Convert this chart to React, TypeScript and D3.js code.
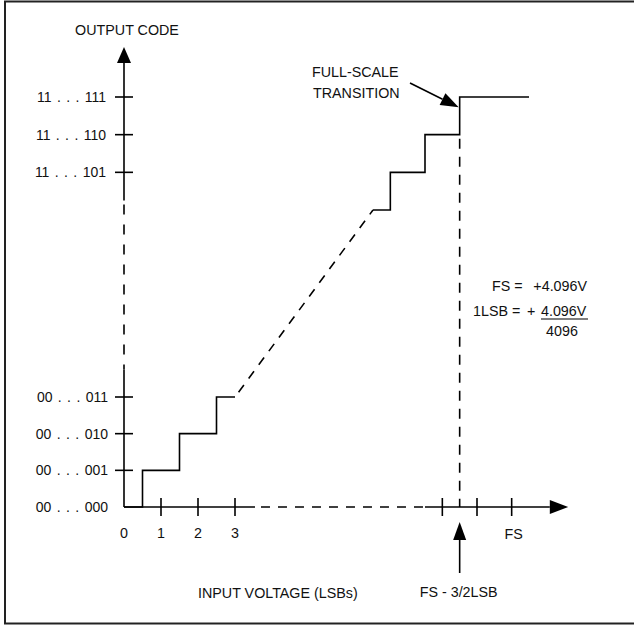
import * as d3 from 'd3';

// transfer function, in LSBs and codes
const lowerSteps: [number, number][] = [[0, 0], [0.5, 1], [1.5, 2], [2.5, 3], [3, 3]];
// upper steps: x relative to FS (LSBs), code relative to 11...111
const upperSteps: [number, number][] = [[-4, -3], [-3.5, -2], [-2.5, -1], [-1.5, 0], [0.5, 0]];

const lowerCodes = ['00 . . . 000', '00 . . . 001', '00 . . . 010', '00 . . . 011'];
const upperCodes = ['11 . . . 101', '11 . . . 110', '11 . . . 111'];
const upperCodeIdx = [-2, -1, 0];

const lowerXTicks = [1, 2, 3];
const lowerXLabels = ['0', '1', '2', '3'];
const upperXTicks = [-2, -1, 0];

const FS_TRANSITION = -1.5;

const FONT = '"Liberation Sans", Arial, Helvetica, sans-serif';

const xLow = d3.scaleLinear().domain([0, 3]).range([124, 235]);
const xHigh = d3.scaleLinear().domain([-4, 0.5]).range([373, 529]);
const yLow = d3.scaleLinear().domain([0, 3]).range([507, 397]);
const yHigh = d3.scaleLinear().domain([-3, 0]).range([210, 97]);

const stepLine = (xs: d3.ScaleLinear<number, number>, ys: d3.ScaleLinear<number, number>) =>
  d3.line<[number, number]>()
    .x(d => xs(d[0]))
    .y(d => ys(d[1]))
    .curve(d3.curveStepAfter);

export default function App() {
  const stroke = '#000';
  const sw = 1.6;
  const axisY = yLow(0);
  const axisX = xLow(0);
  const fsX = xHigh(FS_TRANSITION);

  const yArrowBase = yHigh(0.9);
  const yArrowTip = yHigh(1.33);
  const xArrowBase = xHigh(1.1);
  const xArrowTip = xHigh(1.63);

  const txt = { fontFamily: FONT, fontSize: 14.3, fill: '#111' } as const;
  const codeTxt = { ...txt, fontSize: 14, wordSpacing: 1.5 } as const;

  // annotation arrow toward the full-scale transition
  const annStart: [number, number] = [410, 83];
  const tipX = fsX - 1;
  const tipY = yHigh(-0.27);
  const ang = Math.atan2(tipY - annStart[1], tipX - annStart[0]);
  const len = 18;
  const hw = 6.5;
  const bx = tipX - len * Math.cos(ang);
  const by = tipY - len * Math.sin(ang);
  const px = -Math.sin(ang) * hw;
  const py = Math.cos(ang) * hw;

  return (
    <svg
      width={634}
      height={626}
      style={{ position: 'absolute', left: 0, top: 0, background: '#fff' }}
    >
      {/* frame */}
      <rect x={5} y={1.5} width={700} height={622} fill="none" stroke="#222" strokeWidth={2} />

      {/* y axis */}
      <line x1={axisX} x2={axisX} y1={axisY} y2={yLow(3.75)} stroke={stroke} strokeWidth={sw} />
      <line x1={axisX} x2={axisX} y1={yLow(3.75)} y2={yHigh(-2.75)} stroke={stroke} strokeWidth={sw} strokeDasharray="10,10" strokeDashoffset={5} />
      <line x1={axisX} x2={axisX} y1={yHigh(-2.75)} y2={yArrowBase} stroke={stroke} strokeWidth={sw} />
      <path d={`M${axisX},${yArrowTip} L${axisX + 7},${yArrowBase} L${axisX - 7},${yArrowBase} Z`} fill={stroke} />
      <text x={127} y={35} textAnchor="middle" {...txt}>OUTPUT CODE</text>

      {lowerCodes.map((c, i) => (
        <g key={c}>
          {i > 0 && (
            <line x1={axisX - 9} x2={axisX + 9} y1={yLow(i)} y2={yLow(i)} stroke={stroke} strokeWidth={sw} />
          )}
          <text x={108} y={yLow(i) + 5} textAnchor="end" {...codeTxt}>{c}</text>
        </g>
      ))}
      {upperCodes.map((c, i) => (
        <g key={c}>
          <line x1={axisX - 9} x2={axisX + 9} y1={yHigh(upperCodeIdx[i])} y2={yHigh(upperCodeIdx[i])} stroke={stroke} strokeWidth={sw} />
          <text x={106} y={yHigh(upperCodeIdx[i]) + 5} textAnchor="end" {...codeTxt}>{c}</text>
        </g>
      ))}

      {/* x axis */}
      <line x1={axisX} x2={xLow(3.54)} y1={axisY} y2={axisY} stroke={stroke} strokeWidth={sw} />
      <line x1={xLow(3.54)} x2={xHigh(-2.5)} y1={axisY} y2={axisY} stroke={stroke} strokeWidth={sw} strokeDasharray="9,8" strokeDashoffset={-6} />
      <line x1={xHigh(-2.5)} x2={xArrowBase} y1={axisY} y2={axisY} stroke={stroke} strokeWidth={sw} />
      <path d={`M${xArrowTip},${axisY} L${xArrowBase},${axisY - 7} L${xArrowBase},${axisY + 7} Z`} fill={stroke} />

      {lowerXTicks.map(t => (
        <line key={t} x1={xLow(t)} x2={xLow(t)} y1={axisY - 9} y2={axisY + 9} stroke={stroke} strokeWidth={sw} />
      ))}
      {lowerXLabels.map((l, i) => (
        <text key={l} x={xLow(i)} y={538} textAnchor="middle" {...txt}>{l}</text>
      ))}
      {upperXTicks.map(t => (
        <line key={t} x1={xHigh(t)} x2={xHigh(t)} y1={axisY - 9} y2={axisY + 9} stroke={stroke} strokeWidth={sw} />
      ))}
      <text x={xHigh(0) + 2} y={539} textAnchor="middle" {...txt}>FS</text>

      {/* transfer function */}
      <path d={stepLine(xLow, yLow)(lowerSteps) ?? ''} fill="none" stroke={stroke} strokeWidth={sw} />
      <path d={stepLine(xHigh, yHigh)(upperSteps) ?? ''} fill="none" stroke={stroke} strokeWidth={sw} />
      <line
        x1={xLow(3)} y1={yLow(3)} x2={xHigh(-4)} y2={yHigh(-3)}
        stroke={stroke} strokeWidth={sw} strokeDasharray="9,8" strokeDashoffset={11}
      />

      {/* full scale transition marker */}
      <line x1={fsX} x2={fsX} y1={yHigh(-1)} y2={axisY} stroke={stroke} strokeWidth={sw} strokeDasharray="10,8" strokeDashoffset={-4} />
      <line x1={annStart[0]} y1={annStart[1]} x2={bx} y2={by} stroke={stroke} strokeWidth={sw} />
      <path d={`M${tipX},${tipY} L${bx + px},${by + py} L${bx - px},${by - py} Z`} fill={stroke} />
      <text x={312} y={77} {...txt}>FULL-SCALE</text>
      <text x={313} y={98} {...txt}>TRANSITION</text>

      {/* bottom arrow */}
      <line x1={fsX} x2={fsX} y1={573} y2={538} stroke={stroke} strokeWidth={sw} />
      <path d={`M${fsX},${522} L${fsX + 6.5},${540} L${fsX - 6.5},${540} Z`} fill={stroke} />
      <text x={fsX - 1} y={597} textAnchor="middle" {...txt}>FS - 3/2LSB</text>
      <text x={198} y={598} {...txt}>INPUT VOLTAGE (LSBs)</text>

      {/* formula */}
      <text x={492} y={291} {...txt}>FS =</text>
      <text x={587} y={291} textAnchor="end" {...txt}>+4.096V</text>
      <text x={473} y={316} {...txt}>1LSB =</text>
      <text x={527} y={316} {...txt}>+</text>
      <text x={541} y={316} {...txt}>4.096V</text>
      <line x1={541} x2={588} y1={319} y2={319} stroke={stroke} strokeWidth={1.2} />
      <text x={562} y={336} textAnchor="middle" {...txt}>4096</text>
    </svg>
  );
}
